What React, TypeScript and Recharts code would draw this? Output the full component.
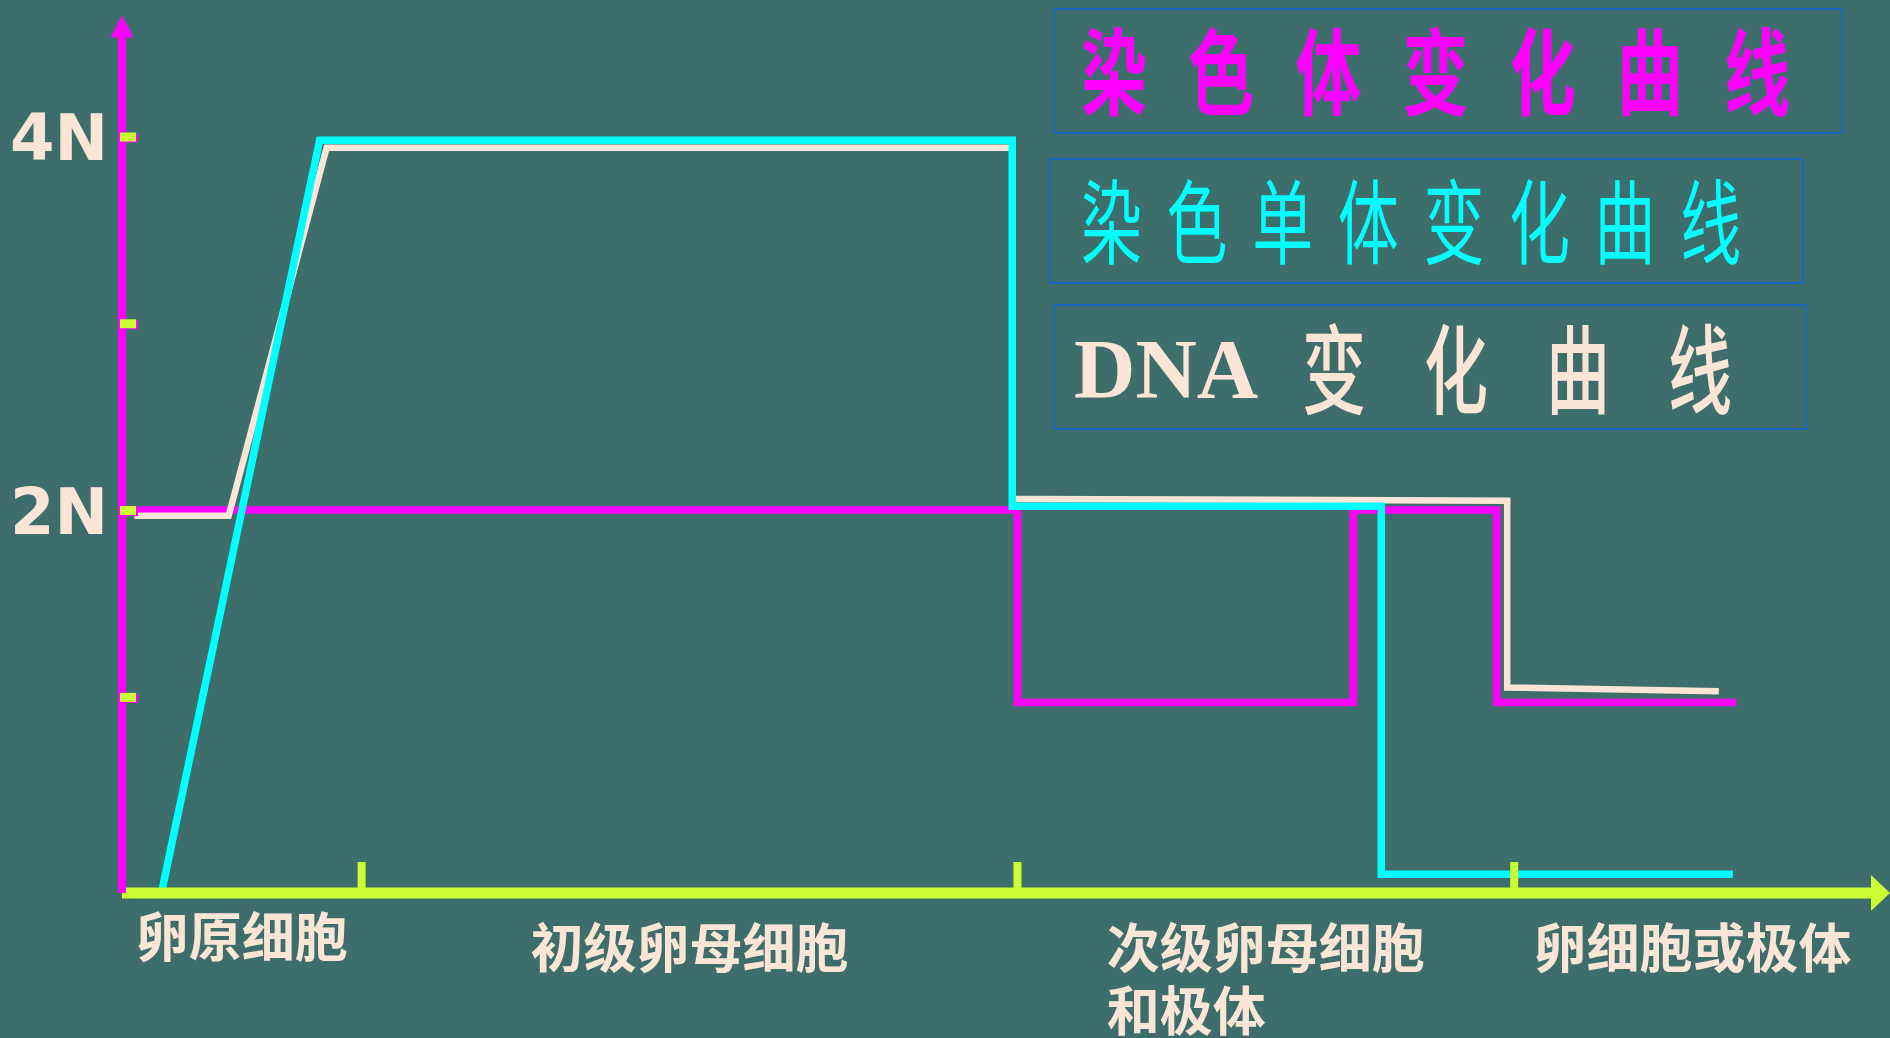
import { Line, LineChart, XAxis, YAxis } from "recharts";

// stage boundaries on an arbitrary 0-100 time axis
const STAGE_BOUNDS = [0, 13.7, 51.2, 79.6, 100];
const STAGE_LABELS = ["卵原细胞", "初级卵母细胞", "次级卵母细胞\n和极体", "卵细胞或极体"];

const Y_TICKS = [1, 2, 3, 4];
const Y_TICK_LABELS = ["", "2N", "", "4N"];

// 染色体
const CHROMOSOME_X = [0.7, 51.2, 51.2, 70.4, 70.4, 78.6, 78.6, 92.3];
const CHROMOSOME_Y = [2, 2, 0.97, 0.97, 2, 2, 0.97, 0.97];

// 染色单体
const CHROMATID_X = [2.3, 11.3, 50.9, 50.9, 72.0, 72.0, 92.1];
const CHROMATID_Y = [-0.03, 3.98, 3.98, 2.02, 2.02, 0.05, 0.05];

// DNA
const DNA_X = [0.7, 6.1, 11.7, 50.9, 50.9, 79.2, 79.2, 91.3];
const DNA_Y = [1.97, 1.97, 3.94, 3.94, 2.06, 2.05, 1.05, 1.03];

const LEGEND_TITLES = ["染色体变化曲线", "染色单体变化曲线", "变化曲线"];

const BG = "#3d6e6c";
const MAGENTA = "#ff00ff";
const CYAN = "#00ffff";
const BEIGE = "#fbe5d6";
const AXIS_GREEN = "#ccff33";
const BOX_BLUE = "#1a66c0";

const CJK = '"Noto Sans CJK SC", "Noto Sans CJK JP", sans-serif';
const LABEL_FS = 53;

const toPoints = (xs: number[], ys: number[]) => xs.map((x, i) => ({ x, y: ys[i] }));

const chromosomeData = toPoints(CHROMOSOME_X, CHROMOSOME_Y);
const chromatidData = toPoints(CHROMATID_X, CHROMATID_Y);
const dnaData = toPoints(DNA_X, DNA_Y);
const stageMids = STAGE_LABELS.map((_, i) => (STAGE_BOUNDS[i] + STAGE_BOUNDS[i + 1]) / 2);

function StageTick(props: any) {
  const { x, y } = props;
  return <rect x={x - 4} y={y - 31} width={8} height={31} fill={AXIS_GREEN} />;
}

function StageLabel(props: any) {
  const { x, y, index } = props;
  const lines = STAGE_LABELS[index].split("\n");
  const maxLen = Math.max(...lines.map((l) => l.length));
  const left = x - (maxLen * LABEL_FS) / 2;
  const base = y + (index === 0 ? 62 : 73);
  return (
    <text
      x={left}
      y={base}
      textAnchor="start"
      fontFamily={CJK}
      fontWeight={700}
      fontSize={LABEL_FS}
      fill={BEIGE}
    >
      {lines.map((l, i) => (
        <tspan key={i} x={left} dy={i === 0 ? 0 : 63}>
          {l}
        </tspan>
      ))}
    </text>
  );
}

function LevelTick(props: any) {
  const { x, y, index } = props;
  const label = Y_TICK_LABELS[index];
  return (
    <g>
      <rect x={x - 1} y={y - 3} width={17} height={9} fill={MAGENTA} />
      <rect x={x - 2} y={y - 4} width={16} height={9} fill={AXIS_GREEN} />
      {label && (
        <text
          x={x - 14}
          y={y + 24}
          textAnchor="end"
          fontFamily="DejaVu Sans, sans-serif"
          fontWeight={700}
          fontSize={64}
          fill={BEIGE}
        >
          {label}
        </text>
      )}
    </g>
  );
}

// condensed CJK glyphs, one text element per character squeezed with textLength
function Condensed({ text, x, pitch, y, size, w, weight, color }: any) {
  return (
    <>
      {Array.from(text as string).map((ch, i) => (
        <text
          key={i}
          x={x + i * pitch}
          y={y}
          textLength={w}
          lengthAdjust="spacingAndGlyphs"
          fontFamily={CJK}
          fontWeight={weight}
          fontSize={size}
          fill={color}
        >
          {ch}
        </text>
      ))}
    </>
  );
}

function LegendBoxes() {
  return (
    <svg
      width={1890}
      height={1038}
      style={{ position: "absolute", left: 0, top: 0, pointerEvents: "none" }}
    >
      <rect x={1054} y={9} width={788} height={124} fill="none" stroke={BOX_BLUE} strokeWidth={2} />
      <Condensed text={LEGEND_TITLES[0]} x={1081} pitch={107.2} y={108} size={94} w={66} weight={700} color={MAGENTA} />

      <rect x={1050} y={159} width={753} height={124} fill="none" stroke={BOX_BLUE} strokeWidth={2} />
      <Condensed text={LEGEND_TITLES[1]} x={1081} pitch={85.6} y={257} size={92} w={61} weight={400} color={CYAN} />

      <rect x={1054} y={305} width={752} height={124} fill="none" stroke={BOX_BLUE} strokeWidth={2} />
      <text x={1074} y={398} fontFamily='"Liberation Serif", "Times New Roman", serif' fontWeight={700} fontSize={85} fill={BEIGE}>
        DNA
      </text>
      <Condensed text={LEGEND_TITLES[2]} x={1302} pitch={122} y={406} size={97} w={64} weight={500} color={BEIGE} />
    </svg>
  );
}

export default function App() {
  return (
    <div style={{ position: "absolute", left: 0, top: 0, width: 1890, height: 1038, background: BG, overflow: "hidden" }}>
      <LineChart width={1890} height={1038} margin={{ top: 37.5, right: 19, bottom: 141, left: 0 }}>
        <defs>
          <marker id="arrowX" markerUnits="userSpaceOnUse" markerWidth={20} markerHeight={36} refX={0} refY={18} orient="auto" overflow="visible">
            <path d="M0,0 L19,18 L0,36 Z" fill={AXIS_GREEN} />
          </marker>
          <marker id="arrowY" markerUnits="userSpaceOnUse" markerWidth={23} markerHeight={23} refX={0} refY={11.5} orient="auto-start-reverse" overflow="visible">
            <path d="M0,0 L22,11.5 L0,23 Z" fill={MAGENTA} />
          </marker>
        </defs>
        <XAxis
          type="number"
          dataKey="x"
          domain={[0, 100]}
          allowDataOverflow
          ticks={STAGE_BOUNDS.slice(1, -1)}
          interval={0}
          height={2}
          tickSize={0}
          tickMargin={0}
          tickLine={false}
          axisLine={{ stroke: AXIS_GREEN, strokeWidth: 11, markerEnd: "url(#arrowX)" }}
          tick={StageTick}
        />
        <XAxis
          xAxisId="stage"
          type="number"
          dataKey="x"
          domain={[0, 100]}
          allowDataOverflow
          ticks={stageMids}
          interval={0}
          height={2}
          tickSize={0}
          tickMargin={0}
          tickLine={false}
          axisLine={false}
          tick={StageLabel}
        />
        <YAxis
          type="number"
          domain={[-0.05, 4.53]}
          allowDataOverflow
          ticks={Y_TICKS}
          interval={0}
          width={122}
          tickSize={0}
          tickMargin={0}
          tickLine={false}
          axisLine={{ stroke: MAGENTA, strokeWidth: 8, markerStart: "url(#arrowY)" }}
          tick={LevelTick}
        />
        <Line data={chromosomeData} dataKey="y" type="linear" stroke={MAGENTA} strokeWidth={7.5} dot={false} activeDot={false} isAnimationActive={false} />
        <Line data={dnaData} dataKey="y" type="linear" stroke={BEIGE} strokeWidth={6.5} dot={false} activeDot={false} isAnimationActive={false} />
        <Line data={chromatidData} dataKey="y" type="linear" stroke={CYAN} strokeWidth={7.5} dot={false} activeDot={false} isAnimationActive={false} />
      </LineChart>
      <LegendBoxes />
    </div>
  );
}
